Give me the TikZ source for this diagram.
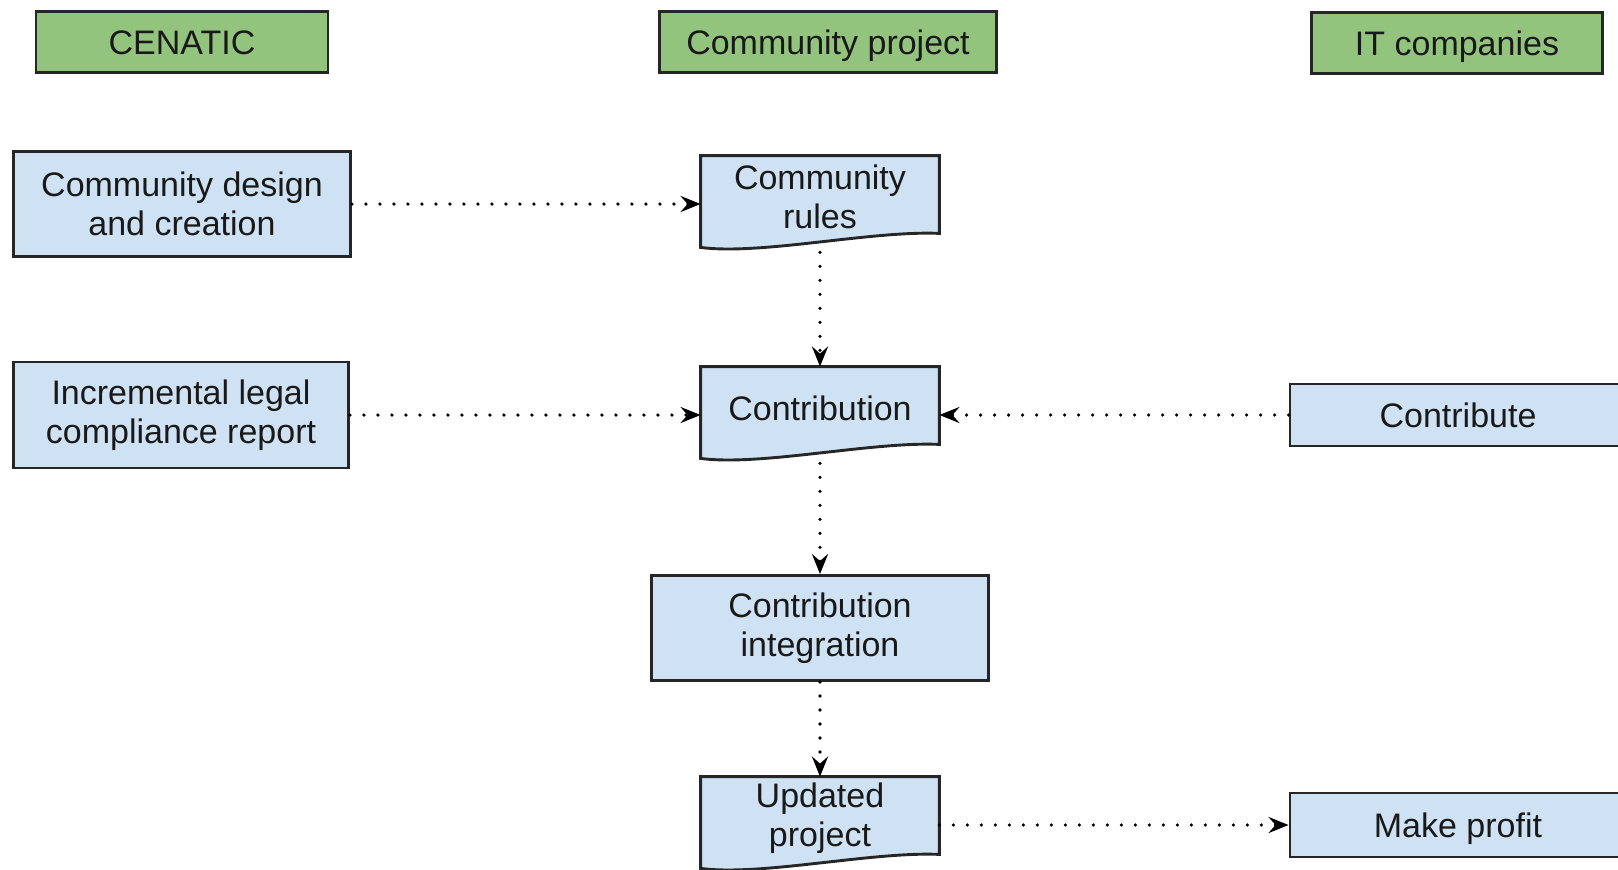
\documentclass[tikz,border=0pt]{standalone}
\usepackage{fontspec}
\setmainfont{Liberation Sans}
\usetikzlibrary{arrows.meta,backgrounds,calc}
\definecolor{headgreen}{HTML}{93C47D}
\definecolor{boxblue}{HTML}{CFE2F3}
\tikzset{
	box/.style={draw=black!85, line width=1.45pt, fill=boxblue, align=center, inner sep=2pt},
	single/.style={text height=12.3pt, text depth=0pt},
	head/.style={box, single, fill=headgreen, minimum height=30.5pt},
	doc/.style={minimum width=119pt, minimum height=48pt, inner sep=0pt},
	doctext/.style={align=center, yshift=3.5pt},
	flow/.style={line width=1.8pt, line cap=round, dash pattern=on 0pt off 7pt, -{Stealth[length=10pt,width=8pt,inset=3.5pt]}}
}
\begin{document}
\begin{tikzpicture}[x=0.5pt, y=-0.5pt, font=\fontsize{17}{19.5}\selectfont, text=black!90]
		\useasboundingbox (0,0) rectangle (1618,869);
		\clip (0,0) rectangle (1618,869);
		% lanes
		\node[head, minimum width=146pt] (cenatic) at (182,42) {CENATIC};
		\node[head, minimum width=168.5pt] (project) at (828,42) {Community project};
		\node[head, minimum width=145.5pt] (itcomp) at (1457,43) {IT companies};
		% steps
		\node[box, minimum width=168.5pt, minimum height=52.5pt] (design) at (182,204) {Community design\\and creation};
		\node[box, minimum width=167.5pt, minimum height=53pt] (legal) at (181,415) {Incremental legal\\compliance report};
		\node[doc, label={[doctext]center:{Community\\rules}}] (rules) at (820,204) {};
		\node[doc, label={[doctext]center:{Contribution}}] (contrib) at (820,415) {};
		\node[box, minimum width=168.5pt, minimum height=52.5pt] (integ) at (820,628) {Contribution\\integration};
		\node[doc, label={[doctext]center:{Updated\\project}}] (updated) at (820,825) {};
		\node[box, single, minimum width=168pt, minimum height=31pt] (contribute) at (1458,415) {Contribute};
		\node[box, single, minimum width=168pt, minimum height=32pt] (profit) at (1458,825) {Make profit};
		\begin{scope}[on background layer]
			\foreach \n in {rules, contrib, updated}
			\draw[box] (\n.north west) -- (\n.north east) -- ($(\n.south east)+(0,-19)$)
			.. controls +(-68,-3) and +(60,8) .. ($(\n.south west)+(0,-5)$) -- cycle;
		\end{scope}
		\draw[flow] (design) -- (rules);
		\draw[flow] (rules) -- (contrib);
		\draw[flow] (legal) -- (contrib);
		\draw[flow] (contribute) -- (contrib);
		\draw[flow] (contrib) -- (integ);
		\draw[flow] (integ) -- (updated);
		\draw[flow] (updated) -- (profit);
	\end{tikzpicture}
\end{document}
